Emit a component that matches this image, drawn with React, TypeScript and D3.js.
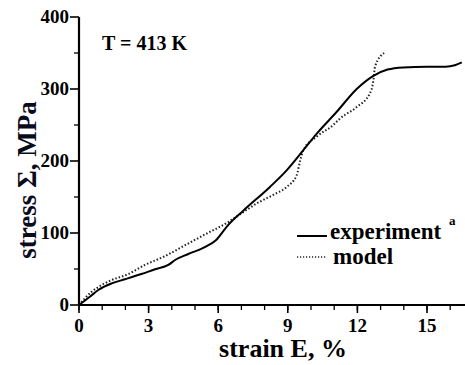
import React, { useEffect, useRef } from "react";
import * as d3 from "d3";

// strain (%) / stress (MPa)
const experiment: [number, number][] = [
  [0, 0], [0.47, 11.5], [0.83, 20.8], [1.41, 30], [1.98, 35.7], [2.69, 43],
  [3.28, 49.6], [3.85, 55.6], [4.14, 62.5], [4.71, 70.8], [5.4, 80], [5.9, 90],
  [6.4, 110], [7.08, 131], [8.23, 164], [8.95, 187], [9.67, 215], [10.25, 238],
  [11.1, 268], [11.97, 300], [12.67, 318], [13.3, 327], [13.97, 330], [15, 331],
  [15.8, 331], [16.2, 333], [16.5, 337],
];
const model: [number, number][] = [
  [0, 0], [0.55, 18.5], [0.98, 27.8], [1.41, 34.7], [2.13, 43], [2.84, 55.6],
  [3.71, 68], [4.57, 83], [5.43, 98], [6.37, 114], [7.08, 129], [7.66, 141],
  [8.37, 153], [8.95, 164], [9.38, 180], [9.53, 200], [9.67, 215], [10.25, 234],
  [10.96, 250], [11.25, 259], [11.97, 275], [12.54, 294], [12.69, 312],
  [12.76, 331], [13.15, 350],
];
const xTicks = [0, 3, 6, 9, 12, 15];
const xMinor = d3.range(0, 17);
const yTicks = [0, 100, 200, 300, 400];
const yMinor = [50, 150, 250, 350];

const FONT = "Liberation Serif";

export default function App() {
  const svgRef = useRef<SVGSVGElement>(null);

  useEffect(() => {
    const svg = d3.select(svgRef.current);
    svg.selectAll("*").remove();

    const x = d3.scaleLinear().domain([0, 15]).range([79, 427]);
    const y = d3.scaleLinear().domain([0, 400]).range([305, 17]);

    const g = svg.append("g");

    const label = (tx: number, ty: number, txt: string | number, size: number, anchor = "start") =>
      g.append("text")
        .attr("x", tx).attr("y", ty)
        .attr("text-anchor", anchor)
        .style("font-family", FONT)
        .style("font-weight", "bold")
        .style("font-size", `${size}px`)
        .text(txt);

    // axes lines
    g.append("line")
      .attr("x1", x(0)).attr("x2", x(0))
      .attr("y1", y(0) + 1).attr("y2", y(400))
      .attr("stroke", "#000").attr("stroke-width", 2.2);
    g.append("line")
      .attr("x1", x(0) - 1).attr("x2", 465)
      .attr("y1", y(0)).attr("y2", y(0))
      .attr("stroke", "#000").attr("stroke-width", 2.2);

    // y ticks
    yTicks.forEach(t => {
      g.append("line")
        .attr("x1", x(0) - 9).attr("x2", x(0))
        .attr("y1", y(t)).attr("y2", y(t))
        .attr("stroke", "#000").attr("stroke-width", 1.6);
      label(x(0) - 10, y(t) + 6, t, 19, "end");
    });
    yMinor.forEach(t => {
      g.append("line")
        .attr("x1", x(0) - 5).attr("x2", x(0))
        .attr("y1", y(t)).attr("y2", y(t))
        .attr("stroke", "#000").attr("stroke-width", 1.3);
    });

    // x ticks
    xMinor.forEach(t => {
      g.append("line")
        .attr("x1", x(t)).attr("x2", x(t))
        .attr("y1", y(0)).attr("y2", y(0) + 5)
        .attr("stroke", "#000").attr("stroke-width", 1.3);
    });
    xTicks.forEach(t => {
      g.append("line")
        .attr("x1", x(t)).attr("x2", x(t))
        .attr("y1", y(0)).attr("y2", y(0) + 8)
        .attr("stroke", "#000").attr("stroke-width", 1.6);
      label(x(t), 332, t, 19, "middle");
    });

    // axis titles
    label(283, 357, "strain E, %", 26, "middle");
    label(0, 0, "stress Σ, MPa", 27, "middle")
      .attr("transform", "translate(36,180) rotate(-90)")
      .attr("fill", "#0b0b1e");

    // temperature
    label(102, 50, "T = 413 K", 20);

    // curves
    const line = d3.line<[number, number]>()
      .x(d => x(d[0]))
      .y(d => y(d[1]))
      .curve(d3.curveMonotoneX);

    g.append("path")
      .datum(model)
      .attr("fill", "none")
      .attr("stroke", "#222")
      .attr("stroke-width", 2)
      .attr("stroke-dasharray", "1.5,2")
      .attr("d", line);

    g.append("path")
      .datum(experiment)
      .attr("fill", "none")
      .attr("stroke", "#000")
      .attr("stroke-width", 2)
      .attr("d", line);

    // legend
    g.append("line")
      .attr("x1", 297).attr("x2", 327)
      .attr("y1", 236).attr("y2", 236)
      .attr("stroke", "#000").attr("stroke-width", 2);
    label(330, 239, "experiment", 23);
    label(449, 225, "a", 13);
    g.append("line")
      .attr("x1", 297).attr("x2", 327)
      .attr("y1", 257).attr("y2", 257)
      .attr("stroke", "#222").attr("stroke-width", 1.6)
      .attr("stroke-dasharray", "1.2,1.8");
    label(333, 264, "model", 23);
  }, []);

  return (
    <div style={{ position: "absolute", left: 0, top: 0, width: 465, height: 365, background: "#fff" }}>
      <svg ref={svgRef} width={465} height={365} style={{ display: "block" }} />
    </div>
  );
}
